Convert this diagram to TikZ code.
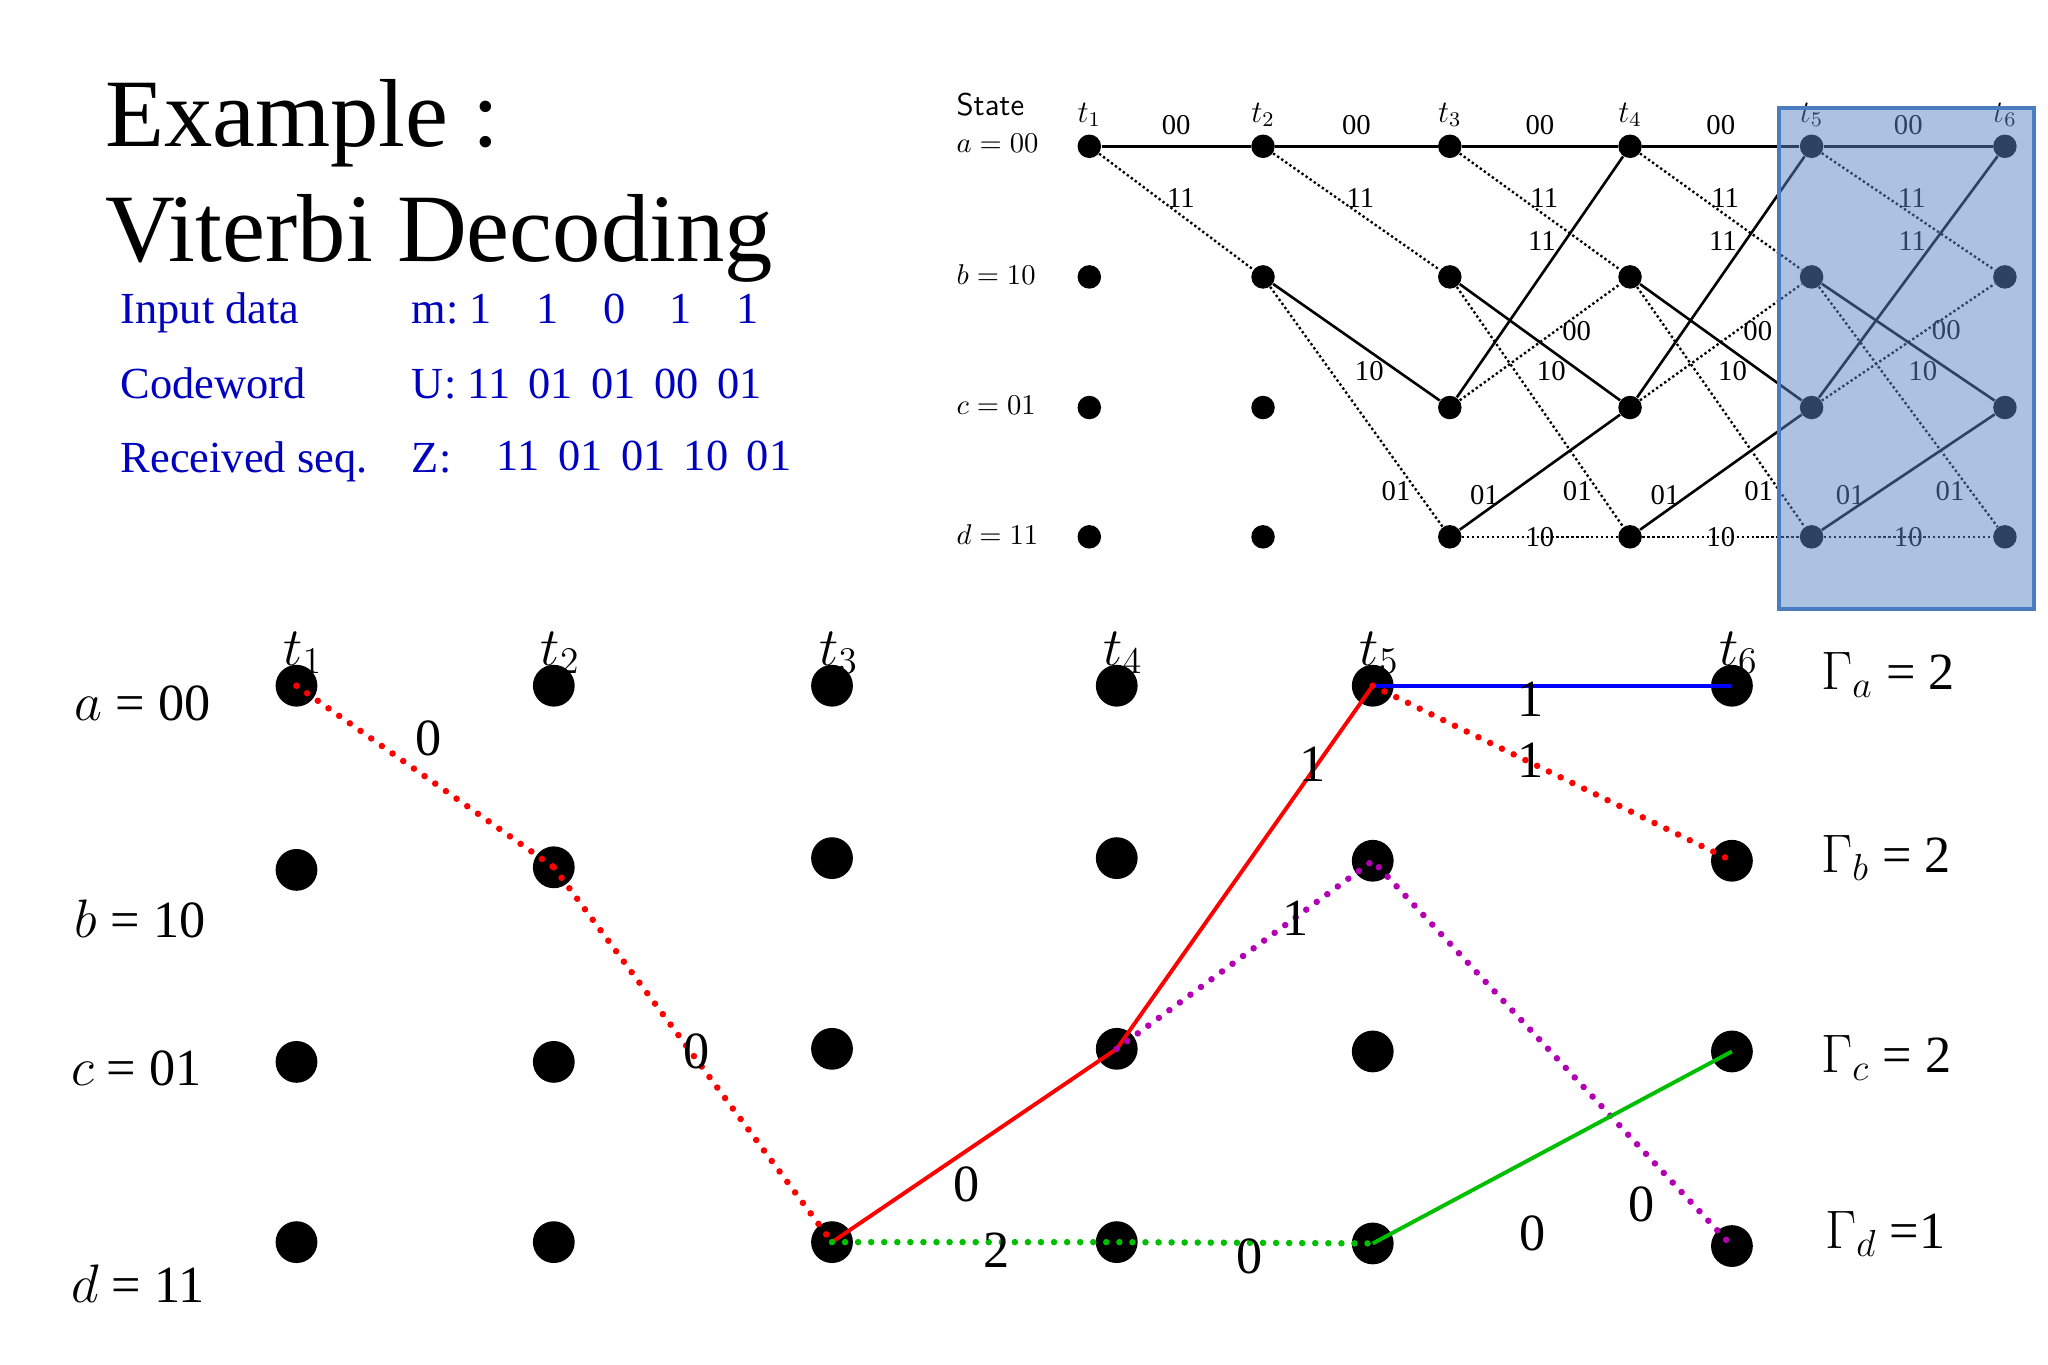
\documentclass[tikz,border=0pt]{standalone}
\usepackage{fontspec}
\setmainfont{Liberation Serif}
\begin{document}
\begin{tikzpicture}[x=0.5pt,y=-0.5pt,
  sdot/.style={circle,fill=black,inner sep=0pt,minimum size=9pt},
  bdot/.style={circle,fill=black,inner sep=0pt,minimum size=16pt},
  sol/.style={line width=1pt},
  dts/.style={line width=0.9pt,densely dotted},
  tl/.style={font=\fontsize{11}{12}\selectfont,inner sep=1pt},
  bl/.style={font=\fontsize{20}{22}\selectfont,inner sep=1pt},
  blu/.style={font=\fontsize{17}{20}\selectfont,text=blue!75!black,anchor=base west,inner sep=0pt},
  rdot/.style={red,line width=2.5pt,dash pattern=on 0pt off 5pt,line cap=round},
  pdot/.style={violet!60!magenta,line width=2.5pt,dash pattern=on 0pt off 5pt,line cap=round},
  gdot/.style={green!75!black,line width=2.5pt,dash pattern=on 0pt off 5pt,line cap=round}]
\definecolor{boxfill}{HTML}{5A86C4}
\definecolor{boxline}{HTML}{4A7CC2}
\useasboundingbox (0,0) rectangle (1568,1045);
% title
\node[anchor=base west,inner sep=0pt,font=\fontsize{37}{40}\selectfont] (ex) at (80,112) {Example :};
\node[anchor=base west,inner sep=0pt,font=\fontsize{37}{40}\selectfont] (vd) at (80,200) {Viterbi Decoding};
\node[blu] (i1) at (92,248) {Input data};
\node[blu] (i2) at (315,248) {m:\ 1\quad 1\quad 0\quad 1\quad 1};
\node[blu] (c1) at (92,305) {Codeword};
\node[blu] (c2) at (315,305) {U: 11\, 01\, 01\, 00\, 01};
\node[blu] (r1) at (92,362) {Received seq.};
\node[blu] (r2) at (315,362) {Z:};
\node[blu] (r3) at (380,360) {11\, 01\, 01\, 10\, 01};
% top trellis
\foreach \i/\x in {1/834,2/967,3/1110,4/1248,5/1387,6/1535}{
  \node[sdot] (a\i) at (\x,112) {};
  \node[sdot] (b\i) at (\x,212) {};
  \node[sdot] (c\i) at (\x,312) {};
  \node[sdot] (d\i) at (\x,411) {};
  \node[tl,font=\fontsize{12}{12}\selectfont\itshape] (tt\i) at (\x,88) {$t_{\i}$};
}
\node[tl,anchor=west,font=\fontsize{12}{12}\selectfont\sffamily] (st) at (730,80) {State};
\node[tl,anchor=west] (sa) at (730,110) {$a=00$};
\node[tl,anchor=west] (sb) at (730,210) {$b=10$};
\node[tl,anchor=west] (sc) at (730,310) {$c=01$};
\node[tl,anchor=west] (sd) at (730,409) {$d=11$};
\foreach \i/\j in {1/2,2/3,3/4,4/5,5/6}{
  \draw[sol] (a\i) -- node[tl,above=3pt]{00} (a\j);
  \draw[dts] (a\i) -- node[tl,pos=0.45,above right=-2pt]{11} (b\j);
}
\foreach \i/\j in {2/3,3/4,4/5,5/6}{
  \draw[sol] (b\i) -- node[tl,pos=0.75,left=4pt]{10} (c\j);
  \draw[dts] (b\i) -- node[tl,pos=0.85,left=1pt]{01} (d\j);
}
\foreach \i/\j in {3/4,4/5,5/6}{
  \draw[sol] (c\i) -- node[tl,pos=0.65,left=2pt]{11} (a\j);
  \draw[dts] (c\i) -- node[tl,pos=0.6,right=1pt]{00} (b\j);
  \draw[sol] (d\i) -- node[tl,pos=0.3,left=2pt]{01} (c\j);
  \draw[dts] (d\i) -- node[tl]{10} (d\j);
}
\fill[boxfill,opacity=0.5] (1362,83) rectangle (1557,466);
\draw[boxline,line width=1.5pt] (1362,83) rectangle (1557,466);
% bottom trellis
\foreach \i/\x/\ya/\yb/\yc/\yd in {1/227/525/666/813/951,2/424/525/664/813/951,3/637/525/657/803/951,4/855/525/657/803/951,5/1051/525/659/805/952,6/1326/525/659/805/954}{
  \node[bdot] (A\i) at (\x,\ya) {};
  \node[bdot] (B\i) at (\x,\yb) {};
  \node[bdot] (C\i) at (\x,\yc) {};
  \node[bdot] (D\i) at (\x,\yd) {};
  \node[font=\fontsize{20}{20}\selectfont,inner sep=0pt] (T\i) at (\x+5,500) {$t_{\i}$};
}
\node[bl,anchor=base west] (la) at (55,552) {$a$ = 00};
\node[bl,anchor=base west] (lb) at (55,718) {$b$ = 10};
\node[bl,anchor=base west] (lc) at (52,831) {$c$ = 01};
\node[bl,anchor=base west] (ld) at (52,997) {$d$ = 11};
\draw[rdot] (A1.center) -- (B2.center);
\draw[rdot] (B2.center) -- (D3.center);
\draw[red,line width=1.5pt] (D3.center) -- (C4.center) -- (A5.center);
\draw[blue,line width=1.5pt] (A5.center) -- (A6.center);
\draw[rdot] (A5.center) -- (B6.center);
\draw[pdot] (C4.center) -- (B5.center) -- (D6.center);
\draw[gdot] (D3.center) -- (D4.center) -- (D5.center);
\draw[green!75!black,line width=1.5pt] (D5.center) -- (C6.center);
\node[bl] (n1) at (328,565) {0};
\node[bl] (n2) at (533,805) {0};
\node[bl] (n3) at (740,907) {0};
\node[bl] (n4) at (1005,585) {1};
\node[bl] (n5) at (1172,535) {1};
\node[bl] (n6) at (1172,582) {1};
\node[bl] (n7) at (992,703) {1};
\node[bl] (n8) at (1257,922) {0};
\node[bl] (n9) at (763,957) {2};
\node[bl] (n10) at (957,962) {0};
\node[bl] (n11) at (1173,944) {0};
\node[bl,anchor=west] (g1) at (1392,517) {$\Gamma_a$ = 2};
\node[bl,anchor=west] (g2) at (1392,657) {$\Gamma_b$ = 2};
\node[bl,anchor=west] (g3) at (1392,810) {$\Gamma_c$ = 2};
\node[bl,anchor=west] (g4) at (1395,945) {$\Gamma_d$ =1};
\end{tikzpicture}
\end{document}
